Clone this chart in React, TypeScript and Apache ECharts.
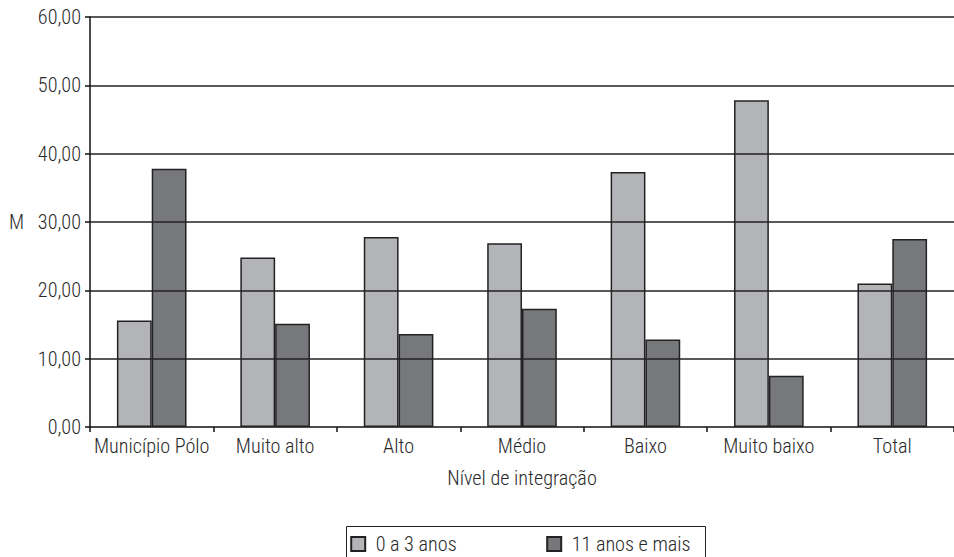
import React, { useEffect, useRef } from "react";
import * as echarts from "echarts";

const categories = ["Município Pólo", "Muito alto", "Alto", "Médio", "Baixo", "Muito baixo", "Total"];
const seriesNames = ["0 a 3 anos", "11 anos e mais"];
const young = [15.6, 24.8, 27.8, 26.9, 37.3, 47.8, 21.0];
const older = [37.8, 15.1, 13.6, 17.3, 12.8, 7.5, 27.5];
const gridValues = [10, 20, 30, 40, 50, 60];

const FONT = "'Roboto Condensed', 'Open Sans Condensed', 'Liberation Sans Narrow', 'DejaVu Sans Condensed', sans-serif";
const FS = 20.2;
const FW = 300;
const TEXT = "#2a2a2a";
const SQUARE = "path://M0,0L14,0L14,14L0,14Z";

export default function App() {
  const ref = useRef<HTMLDivElement>(null);
  useEffect(() => {
    if (!ref.current) return;
    const chart = echarts.init(ref.current, null, { renderer: "svg" });
    const txt = { fontFamily: FONT, fontSize: FS, fontWeight: FW, color: TEXT };
    const legendBase = {
      top: 534,
      orient: "horizontal",
      padding: 0,
      itemWidth: 25,
      itemHeight: 14,
      icon: SQUARE,
      textStyle: txt,
    };
    chart.setOption({
      animation: false,
      backgroundColor: "#fff",
      textStyle: { fontFamily: FONT, color: TEXT },
      grid: { left: 90, top: 17, width: 869, height: 410 },
      legend: [
        { ...legendBase, left: 350.2, data: [seriesNames[0]] },
        { ...legendBase, left: 546.2, data: [seriesNames[1]] },
      ],
      graphic: [
        {
          type: "rect",
          left: 344,
          top: 524,
          shape: { width: 359, height: 60 },
          style: { fill: "none", stroke: "#222", lineWidth: 1 },
          silent: true,
        },
      ],
      xAxis: {
        type: "category",
        data: categories,
        name: "Nível de integração",
        nameLocation: "middle",
        nameGap: 41,
        nameTextStyle: txt,
        axisLine: { lineStyle: { color: "#111", width: 1.5 } },
        axisTick: { show: true, length: 5, lineStyle: { color: "#111", width: 1.5 } },
        axisLabel: { margin: 9, ...txt, interval: 0 },
      },
      yAxis: {
        type: "value",
        min: 0,
        max: 60,
        interval: 10,
        name: "M",
        nameLocation: "middle",
        nameRotate: 0,
        nameGap: 66,
        nameTextStyle: txt,
        axisLine: { show: true, lineStyle: { color: "#111", width: 1.5 } },
        axisTick: { show: true, length: 5, lineStyle: { color: "#111", width: 1.5 } },
        axisLabel: {
          margin: 9,
          ...txt,
          formatter: (v: number) => v.toFixed(2).replace(".", ","),
        },
        splitLine: { show: false },
      },
      series: [
        {
          name: seriesNames[0],
          type: "bar",
          data: young,
          z: 2,
          barGap: "0%",
          barCategoryGap: "43.6%",
          itemStyle: { color: "#b3b4b8", borderColor: "#222", borderWidth: 1.5 },
        },
        {
          name: seriesNames[1],
          type: "bar",
          data: older,
          z: 3,
          barGap: "0%",
          barCategoryGap: "43.6%",
          itemStyle: { color: "#77787c", borderColor: "#222", borderWidth: 1.5 },
          markLine: {
            silent: true,
            symbol: "none",
            label: { show: false },
            lineStyle: { color: "#222", width: 1.5, type: "solid" },
            data: gridValues.map((v) => ({ yAxis: v })),
          },
        },
      ],
    });
    return () => chart.dispose();
  }, []);
  return (
    <div
      ref={ref}
      style={{ position: "fixed", left: 0, top: 0, width: 954, height: 557, overflow: "hidden" }}
    />
  );
}
